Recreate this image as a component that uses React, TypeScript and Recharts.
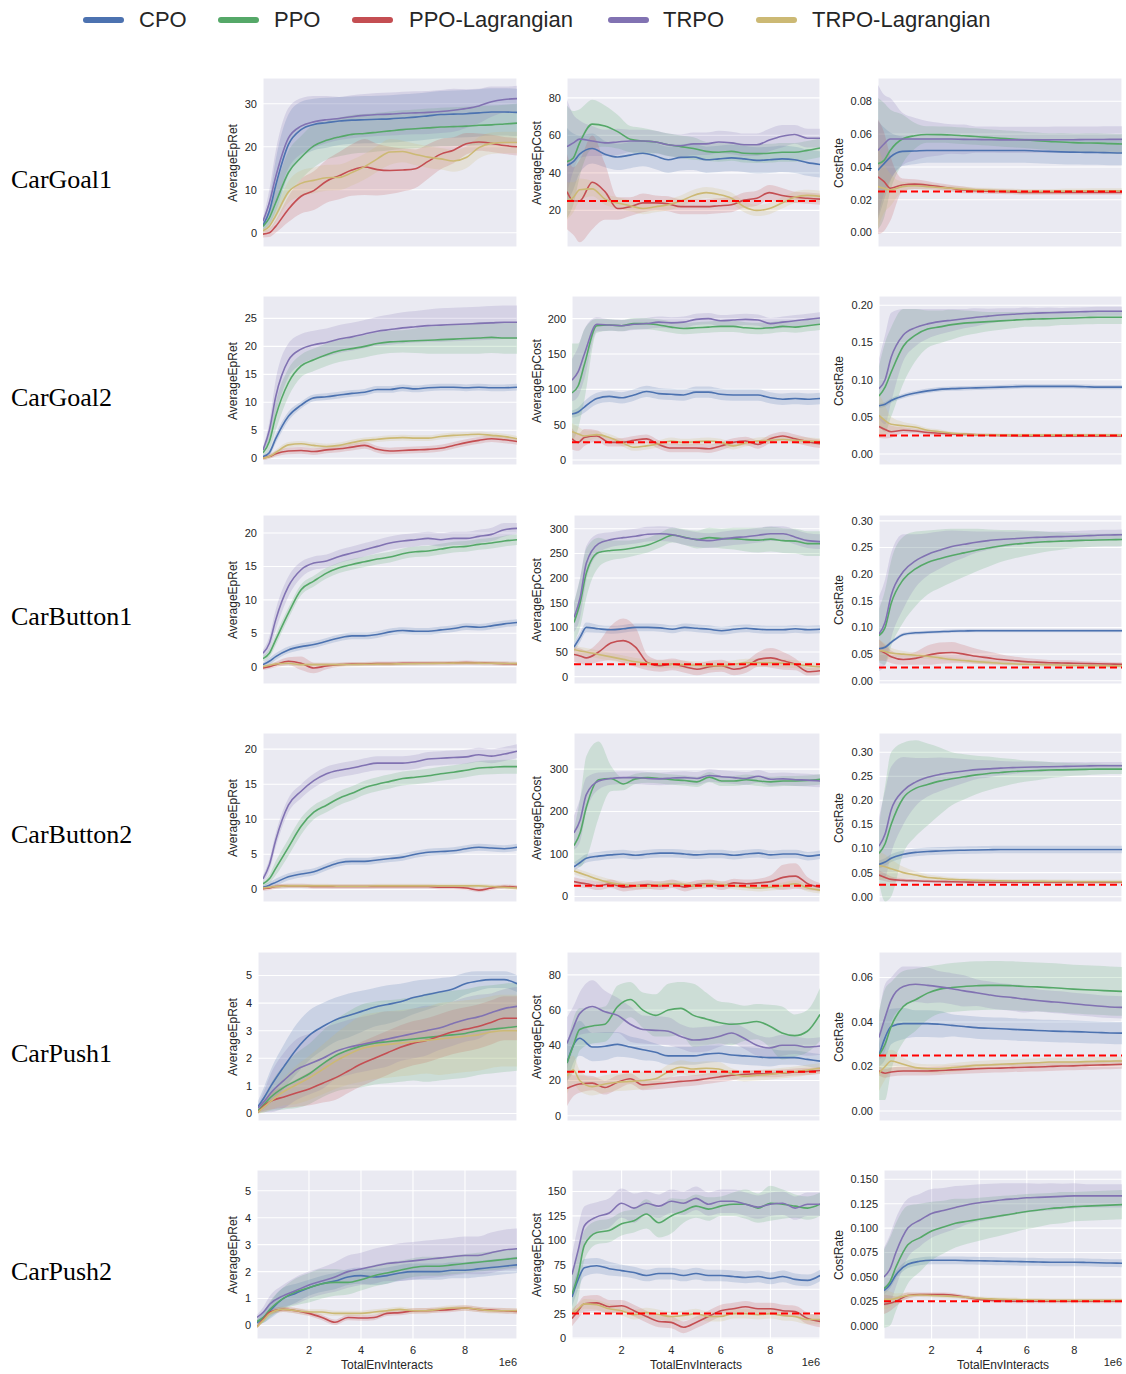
import React from 'react';
import { ComposedChart, Area, Line, XAxis, YAxis, CartesianGrid, ReferenceLine } from 'recharts';

const ALGOS = ['CPO', 'PPO', 'PPO-Lagrangian', 'TRPO', 'TRPO-Lagrangian'];
const COLORS = ['#4C72B0', '#55A868', '#C44E52', '#8172B2', '#CCB974'];
const ENVS = ['CarGoal1', 'CarGoal2', 'CarButton1', 'CarButton2', 'CarPush1', 'CarPush2'];
const METRICS = ['AverageEpRet', 'AverageEpCost', 'CostRate'];
const STEPS = [0, 0.25, 0.5, 1, 1.5, 2, 2.5, 3, 3.5, 4, 4.5, 5, 5.5, 6, 6.5, 7, 7.5, 8, 8.5, 9, 9.5, 10];
const X_TICKS = [2, 4, 6, 8];
const COST_LIMIT = 25;
const RATE_LIMIT = 0.025;

// ---------- CarGoal1 ----------
const goal1Ret = [
  [1.7, 5, 11, 20.5, 24, 25.2, 25.6, 26, 26.2, 26.3, 26.4, 26.5, 26.7, 26.9, 27.2, 27.5, 27.6, 27.7, 27.9, 28.1, 28.1, 28],
  [1.5, 3.5, 7, 14, 17.5, 20.2, 21.5, 22.3, 22.9, 23.1, 23.4, 23.7, 24, 24.2, 24.4, 24.6, 24.7, 24.8, 25, 25.1, 25.3, 25.5],
  [-0.3, 0, 1.5, 5.5, 8.5, 9.8, 12, 13.3, 14.6, 15.3, 14.7, 14.5, 14.6, 14.9, 16.6, 18.3, 19.2, 20.7, 21.1, 20.8, 20.3, 20],
  [2.7, 7, 13, 22, 24.8, 25.8, 26.3, 26.6, 27, 27.3, 27.5, 27.6, 27.8, 27.9, 28, 28.2, 28.5, 28.9, 29.5, 30.5, 31, 31.2],
  [0.5, 1.5, 4, 9.5, 11.5, 12.2, 12.8, 12.9, 14, 15.4, 17.2, 18.8, 18.9, 18.2, 17.6, 17.2, 16.7, 17.5, 19.8, 20.8, 21, 21],
];
const goal1RetBand = [
  [1, 3, 6, 7, 6.5, 6, 5.8, 5.6, 5.5, 5.5, 5.5, 5.5, 5.5, 5.5, 5.5, 5.5, 5.5, 5.5, 5.5, 5.5, 5.5, 5.5],
  [0.8, 2, 3.5, 5, 5, 5, 4.5, 4.5, 4.5, 4.5, 4.5, 4.5, 4.5, 4.5, 4.5, 4.5, 4.5, 4.5, 4.5, 4.5, 4.5, 4.5],
  [0.8, 1, 1.5, 3, 4, 4.5, 5, 5.5, 6, 6.5, 6, 5.5, 5, 4.5, 4, 3.5, 3, 2.5, 2, 2, 2, 2],
  [0.8, 3, 6, 7, 6.5, 6, 5.5, 5, 5, 5, 5, 5, 5, 5, 5, 5, 5, 4.5, 4, 3.5, 3, 3],
  [0.5, 1, 1.5, 2.5, 3, 3, 3, 3, 3, 3, 3, 3, 2.5, 2.5, 2.5, 2.5, 2.5, 2.5, 2.5, 2.5, 2.5, 2.5],
];
const goal1Cost = [
  [44, 46, 50, 53, 50, 48.5, 49.5, 50.5, 49, 47, 48.3, 48.5, 47, 47.5, 48, 47.5, 46.7, 47, 47.5, 47, 45.5, 44.5],
  [46, 48, 56, 66, 65, 62, 58, 57, 56.5, 55, 54, 53, 51.5, 51, 51.5, 50.5, 50.3, 50.5, 51, 51, 52, 53.3],
  [30, 25, 25, 35, 30, 21, 22, 24, 24, 23.5, 22, 22, 22, 22.5, 23, 25.5, 26.5, 29.5, 28, 27, 26.5, 26],
  [54, 56, 58, 57, 56, 56.5, 57, 57, 56.5, 55, 54.5, 55.5, 55.5, 56.5, 56, 55, 55, 57.5, 59.5, 60.5, 58.5, 58.5],
  [25, 27, 31, 31.5, 26, 24, 22.5, 21, 22, 23, 25, 28, 29.5, 28.5, 26.5, 22, 20, 21, 24, 27, 28, 27.5],
];
const goal1CostBand = [
  [20, 15, 10, 8, 7, 7, 7, 7, 7, 7, 7, 7, 7, 7, 7, 7, 7, 7, 7, 7, 7, 7],
  [30, 25, 18, 13, 11, 9, 7, 7, 6, 6, 6, 6, 5, 5, 5, 5, 5, 5, 5, 5, 5, 5],
  [20, 18, 22, 25, 15, 6, 5, 5, 4, 4, 4, 4, 4, 4, 4, 4, 4, 4, 4, 3, 3, 3],
  [25, 15, 10, 8, 7, 7, 6, 6, 6, 6, 6, 6, 6, 6, 6, 6, 6, 6, 6, 5, 5, 5],
  [10, 8, 6, 4, 3, 3, 3, 3, 3, 3, 3, 3, 3, 3, 3, 3, 3, 3, 3, 3, 3, 3],
];
const goal1Rate = [
  [0.038, 0.042, 0.046, 0.0495, 0.0497, 0.05, 0.05, 0.05, 0.05, 0.05, 0.05, 0.05, 0.05, 0.05, 0.0497, 0.0495, 0.0492, 0.049, 0.0489, 0.0488, 0.0486, 0.0485],
  [0.042, 0.044, 0.05, 0.057, 0.059, 0.0598, 0.0597, 0.0595, 0.059, 0.0585, 0.058, 0.0575, 0.057, 0.0565, 0.056, 0.0555, 0.0552, 0.0548, 0.0546, 0.0545, 0.0542, 0.054],
  [0.034, 0.031, 0.027, 0.029, 0.0295, 0.029, 0.028, 0.027, 0.026, 0.0255, 0.0252, 0.025, 0.0248, 0.0245, 0.0245, 0.0245, 0.0245, 0.0245, 0.0245, 0.0245, 0.0245, 0.0245],
  [0.05, 0.054, 0.057, 0.057, 0.057, 0.057, 0.057, 0.057, 0.0568, 0.0567, 0.0566, 0.0565, 0.0565, 0.0565, 0.0565, 0.0565, 0.0566, 0.0566, 0.0567, 0.0567, 0.0568, 0.0568],
  [0.028, 0.027, 0.026, 0.028, 0.0285, 0.028, 0.0275, 0.027, 0.0265, 0.026, 0.0258, 0.0255, 0.0253, 0.025, 0.025, 0.025, 0.0252, 0.0253, 0.0254, 0.0255, 0.0255, 0.0255],
];
const goal1RateBand = [
  [0.03, 0.022, 0.015, 0.009, 0.008, 0.0075, 0.0075, 0.0075, 0.0075, 0.0075, 0.0075, 0.0075, 0.0075, 0.0075, 0.0075, 0.0075, 0.0075, 0.0075, 0.0075, 0.0075, 0.0075, 0.0075],
  [0.04, 0.035, 0.025, 0.015, 0.008, 0.005, 0.005, 0.005, 0.005, 0.005, 0.005, 0.005, 0.005, 0.005, 0.005, 0.005, 0.0055, 0.0055, 0.006, 0.006, 0.006, 0.006],
  [0.035, 0.03, 0.02, 0.004, 0.003, 0.0025, 0.002, 0.002, 0.002, 0.0015, 0.0015, 0.0015, 0.0015, 0.0015, 0.0015, 0.0015, 0.0015, 0.0015, 0.0015, 0.0015, 0.0015, 0.0015],
  [0.04, 0.03, 0.025, 0.016, 0.013, 0.011, 0.01, 0.009, 0.009, 0.008, 0.008, 0.008, 0.008, 0.008, 0.008, 0.008, 0.008, 0.008, 0.008, 0.008, 0.008, 0.008],
  [0.025, 0.015, 0.01, 0.003, 0.002, 0.002, 0.0015, 0.0015, 0.0015, 0.0015, 0.0015, 0.0015, 0.0015, 0.0015, 0.0015, 0.0015, 0.0015, 0.0015, 0.0015, 0.0015, 0.0015, 0.0015],
];

// ---------- CarGoal2 ----------
const goal2Ret = [
  [0.3, 1, 3.5, 7.5, 9.5, 10.8, 11, 11.3, 11.6, 11.8, 12.3, 12.3, 12.6, 12.4, 12.6, 12.7, 12.7, 12.6, 12.7, 12.6, 12.6, 12.7],
  [1, 3, 7.5, 13.5, 16.5, 17.6, 18.5, 19.2, 19.6, 20, 20.5, 20.8, 20.9, 21, 21.1, 21.2, 21.3, 21.4, 21.5, 21.6, 21.5, 21.5],
  [0, 0.3, 0.8, 1.3, 1.4, 1.2, 1.5, 1.7, 2, 2.3, 1.6, 1.3, 1.4, 1.5, 1.6, 1.8, 2.3, 2.8, 3.2, 3.5, 3.3, 3],
  [1.5, 5, 11, 17.5, 19.5, 20.3, 20.7, 21.3, 21.7, 22.2, 22.7, 23, 23.3, 23.5, 23.7, 23.8, 23.9, 24, 24.1, 24.2, 24.3, 24.3],
  [0, 0.3, 1, 2.4, 2.6, 2.3, 2.1, 2.3, 2.8, 3.2, 3.4, 3.6, 3.7, 3.6, 3.6, 3.9, 4.1, 4.2, 4.3, 4.1, 3.9, 3.5],
];
const goal2RetBand = [
  [0.3, 0.5, 0.8, 0.8, 0.6, 0.6, 0.6, 0.6, 0.6, 0.6, 0.6, 0.6, 0.6, 0.6, 0.6, 0.6, 0.6, 0.6, 0.6, 0.6, 0.6, 0.6],
  [0.5, 1.5, 2.5, 2.5, 2, 2, 2, 2, 2, 2, 2, 2, 2, 2.2, 2.4, 2.5, 2.6, 2.7, 2.8, 2.8, 2.8, 2.8],
  [0.3, 0.4, 0.5, 0.6, 0.6, 0.6, 0.6, 0.6, 0.6, 0.6, 0.6, 0.6, 0.6, 0.6, 0.6, 0.6, 0.6, 0.6, 0.6, 0.6, 0.6, 0.6],
  [0.5, 1.5, 3, 3, 2.7, 2.5, 2.5, 2.5, 2.5, 2.5, 2.6, 2.7, 2.8, 2.8, 2.9, 3, 3, 3, 3, 3, 3, 3],
  [0.3, 0.4, 0.5, 0.5, 0.5, 0.5, 0.5, 0.5, 0.5, 0.5, 0.5, 0.5, 0.5, 0.5, 0.5, 0.5, 0.5, 0.5, 0.5, 0.5, 0.5, 0.5],
];
const goal2Cost = [
  [65, 68, 75, 87, 90, 88, 92, 97, 94, 93, 92, 96, 96, 93, 92, 92, 92, 88, 86, 87, 86, 87],
  [95, 105, 135, 190, 191, 190, 193, 193, 191, 188, 186, 187, 188, 189, 189, 187, 186, 187, 189, 188, 190, 192],
  [30, 25, 32, 34, 25, 25, 28, 30, 22, 17, 17, 17, 16, 20, 25, 27, 22, 30, 34, 30, 26, 23],
  [113, 125, 150, 192, 191, 190, 192, 193, 195, 194, 195, 199, 200, 197, 198, 199, 198, 193, 195, 197, 199, 201],
  [40, 37, 34, 36, 32, 25, 18, 20, 23, 27, 25, 26, 27, 25, 20, 24, 27, 28, 29, 28, 27, 26],
];
const goal2CostBand = [
  [5, 6, 8, 8, 8, 8, 8, 8, 8, 8, 8, 8, 8, 8, 8, 8, 8, 8, 8, 8, 8, 8],
  [70, 60, 50, 10, 8, 8, 8, 8, 8, 8, 8, 8, 8, 8, 8, 8, 8, 8, 8, 8, 8, 8],
  [15, 12, 12, 8, 6, 6, 6, 6, 6, 6, 6, 6, 6, 6, 6, 6, 6, 6, 6, 6, 6, 6],
  [30, 35, 35, 10, 8, 8, 8, 8, 8, 8, 8, 8, 8, 8, 8, 8, 8, 8, 8, 8, 8, 8],
  [12, 10, 8, 5, 5, 5, 5, 5, 5, 5, 5, 5, 5, 5, 5, 5, 5, 5, 5, 5, 5, 5],
];
const goal2Rate = [
  [0.065, 0.067, 0.072, 0.078, 0.082, 0.085, 0.087, 0.088, 0.0885, 0.089, 0.0895, 0.09, 0.0905, 0.091, 0.091, 0.091, 0.091, 0.091, 0.0905, 0.09, 0.09, 0.09],
  [0.078, 0.09, 0.11, 0.145, 0.16, 0.168, 0.171, 0.174, 0.176, 0.177, 0.178, 0.179, 0.18, 0.181, 0.1815, 0.182, 0.1825, 0.183, 0.1835, 0.184, 0.184, 0.184],
  [0.037, 0.033, 0.03, 0.032, 0.031, 0.029, 0.028, 0.027, 0.0265, 0.026, 0.0255, 0.025, 0.0248, 0.0245, 0.0245, 0.0245, 0.0245, 0.0245, 0.0245, 0.0245, 0.0245, 0.0245],
  [0.088, 0.1, 0.13, 0.16, 0.17, 0.175, 0.178, 0.18, 0.182, 0.184, 0.1855, 0.187, 0.188, 0.189, 0.1895, 0.19, 0.1905, 0.191, 0.1915, 0.192, 0.192, 0.192],
  [0.052, 0.045, 0.04, 0.038, 0.036, 0.032, 0.03, 0.028, 0.027, 0.026, 0.0258, 0.0255, 0.0255, 0.0255, 0.0255, 0.0255, 0.0255, 0.0255, 0.0255, 0.0255, 0.0255, 0.0255],
];
const goal2RateBand = [
  [0.003, 0.003, 0.003, 0.003, 0.003, 0.003, 0.003, 0.003, 0.003, 0.003, 0.003, 0.003, 0.003, 0.003, 0.003, 0.003, 0.003, 0.003, 0.003, 0.003, 0.003, 0.003],
  [0.04, 0.06, 0.06, 0.05, 0.035, 0.025, 0.022, 0.02, 0.017, 0.015, 0.013, 0.012, 0.011, 0.01, 0.01, 0.01, 0.009, 0.009, 0.009, 0.009, 0.009, 0.009],
  [0.015, 0.012, 0.008, 0.004, 0.003, 0.003, 0.003, 0.002, 0.002, 0.002, 0.002, 0.002, 0.002, 0.002, 0.002, 0.002, 0.002, 0.002, 0.002, 0.002, 0.002, 0.002],
  [0.04, 0.06, 0.06, 0.035, 0.025, 0.02, 0.017, 0.015, 0.013, 0.012, 0.01, 0.009, 0.008, 0.008, 0.007, 0.007, 0.006, 0.006, 0.006, 0.006, 0.006, 0.006],
  [0.03, 0.02, 0.01, 0.005, 0.004, 0.003, 0.003, 0.002, 0.002, 0.002, 0.002, 0.002, 0.002, 0.002, 0.002, 0.002, 0.002, 0.002, 0.002, 0.002, 0.002, 0.002],
];

// ---------- CarButton1 ----------
const button1Ret = [
  [0.3, 0.8, 1.5, 2.5, 3, 3.3, 3.8, 4.3, 4.6, 4.6, 4.8, 5.2, 5.4, 5.3, 5.3, 5.5, 5.7, 6, 5.9, 6.1, 6.4, 6.6],
  [1.2, 2, 4, 8, 11.5, 12.8, 14, 14.8, 15.3, 15.7, 16.1, 16.4, 16.9, 17.2, 17.3, 17.6, 17.9, 18, 18.3, 18.5, 18.8, 19],
  [-0.2, 0, 0.3, 0.8, 0.5, -0.2, 0.1, 0.3, 0.4, 0.4, 0.45, 0.45, 0.5, 0.5, 0.5, 0.5, 0.55, 0.6, 0.55, 0.5, 0.45, 0.4],
  [2, 3.5, 7, 12, 14.5, 15.5, 15.8, 16.5, 17, 17.5, 18, 18.5, 18.8, 19, 19.2, 19, 19.2, 19.2, 19.5, 19.8, 20.5, 20.7],
  [0, 0.2, 0.4, 0.5, 0.3, 0.3, 0.3, 0.3, 0.32, 0.35, 0.38, 0.4, 0.42, 0.45, 0.48, 0.5, 0.52, 0.55, 0.52, 0.5, 0.48, 0.45],
];
const button1RetBand = [
  [0.3, 0.5, 0.5, 0.5, 0.5, 0.5, 0.5, 0.5, 0.5, 0.5, 0.5, 0.5, 0.5, 0.5, 0.5, 0.5, 0.5, 0.5, 0.5, 0.5, 0.5, 0.5],
  [0.4, 0.6, 0.8, 0.8, 0.8, 0.8, 0.8, 0.8, 0.8, 0.8, 0.8, 0.8, 0.8, 0.8, 0.8, 0.8, 0.8, 0.8, 0.8, 0.8, 0.8, 0.8],
  [0.3, 0.3, 0.4, 0.6, 1, 0.8, 0.5, 0.3, 0.3, 0.3, 0.3, 0.3, 0.3, 0.3, 0.3, 0.3, 0.3, 0.3, 0.3, 0.3, 0.3, 0.3],
  [0.5, 1, 1.5, 1.5, 1.2, 1, 1, 1, 1, 1, 1, 1, 1, 1, 1, 1, 1, 1, 1, 1, 1, 0.8],
  [0.3, 0.3, 0.3, 0.3, 0.3, 0.3, 0.3, 0.3, 0.3, 0.3, 0.3, 0.3, 0.3, 0.3, 0.3, 0.3, 0.3, 0.3, 0.3, 0.3, 0.3, 0.3],
];
const button1Cost = [
  [60, 80, 100, 97, 95, 97, 100, 100, 99, 96, 100, 98, 96, 93, 96, 98, 96, 95, 95, 97, 95, 96],
  [110, 150, 210, 252, 256, 258, 262, 267, 277, 287, 283, 278, 282, 280, 280, 278, 277, 279, 276, 275, 270, 270],
  [45, 42, 38, 50, 68, 73, 60, 28, 22, 25, 20, 15, 20, 22, 15, 20, 35, 38, 32, 25, 10, 12],
  [120, 160, 230, 270, 278, 282, 285, 289, 290, 288, 282, 278, 276, 279, 282, 284, 287, 290, 290, 283, 276, 274],
  [55, 52, 50, 45, 40, 35, 30, 27, 25, 25, 24, 23, 22, 22, 25, 28, 28, 28, 27, 25, 22, 20],
];
const button1CostBand = [
  [10, 10, 10, 8, 8, 8, 8, 8, 8, 8, 8, 8, 8, 8, 8, 8, 8, 8, 8, 8, 8, 8],
  [40, 50, 50, 30, 20, 18, 16, 15, 15, 15, 16, 18, 20, 20, 22, 24, 25, 25, 25, 25, 25, 25],
  [15, 15, 15, 20, 35, 45, 40, 15, 12, 12, 12, 12, 12, 12, 12, 12, 15, 20, 18, 12, 8, 8],
  [30, 40, 35, 20, 15, 15, 15, 15, 15, 15, 15, 15, 15, 15, 15, 15, 15, 15, 15, 15, 15, 15],
  [10, 8, 8, 8, 8, 8, 8, 8, 8, 8, 8, 8, 8, 8, 8, 8, 8, 8, 8, 8, 8, 8],
];
const button1Rate = [
  [0.06, 0.063, 0.072, 0.087, 0.09, 0.091, 0.092, 0.093, 0.0935, 0.094, 0.094, 0.094, 0.094, 0.094, 0.094, 0.094, 0.094, 0.094, 0.094, 0.094, 0.094, 0.094],
  [0.085, 0.1, 0.145, 0.19, 0.21, 0.222, 0.229, 0.235, 0.24, 0.245, 0.249, 0.253, 0.256, 0.258, 0.26, 0.261, 0.262, 0.263, 0.2635, 0.264, 0.2645, 0.265],
  [0.058, 0.052, 0.045, 0.04, 0.042, 0.048, 0.052, 0.053, 0.05, 0.046, 0.043, 0.04, 0.038, 0.036, 0.035, 0.034, 0.0335, 0.033, 0.0325, 0.032, 0.0315, 0.031],
  [0.088, 0.11, 0.16, 0.205, 0.225, 0.237, 0.245, 0.252, 0.256, 0.26, 0.263, 0.265, 0.2665, 0.268, 0.269, 0.27, 0.2705, 0.271, 0.272, 0.273, 0.2735, 0.274],
  [0.057, 0.055, 0.052, 0.05, 0.048, 0.046, 0.043, 0.04, 0.038, 0.036, 0.0345, 0.033, 0.032, 0.031, 0.0305, 0.03, 0.0295, 0.029, 0.0285, 0.0285, 0.028, 0.028],
];
const button1RateBand = [
  [0.003, 0.003, 0.003, 0.003, 0.003, 0.003, 0.003, 0.003, 0.003, 0.003, 0.003, 0.003, 0.003, 0.003, 0.003, 0.003, 0.003, 0.003, 0.003, 0.003, 0.003, 0.003],
  [0.05, 0.07, 0.08, 0.08, 0.07, 0.06, 0.055, 0.05, 0.045, 0.04, 0.035, 0.03, 0.027, 0.024, 0.021, 0.018, 0.016, 0.014, 0.013, 0.012, 0.012, 0.012],
  [0.02, 0.015, 0.012, 0.01, 0.012, 0.018, 0.02, 0.02, 0.017, 0.014, 0.012, 0.01, 0.008, 0.007, 0.006, 0.005, 0.005, 0.005, 0.004, 0.004, 0.004, 0.004],
  [0.07, 0.08, 0.08, 0.07, 0.05, 0.04, 0.035, 0.03, 0.025, 0.02, 0.017, 0.015, 0.013, 0.012, 0.011, 0.01, 0.01, 0.01, 0.01, 0.01, 0.01, 0.01],
  [0.02, 0.015, 0.01, 0.006, 0.005, 0.005, 0.004, 0.004, 0.004, 0.004, 0.004, 0.004, 0.004, 0.004, 0.004, 0.004, 0.004, 0.004, 0.004, 0.004, 0.004, 0.004],
];

// ---------- CarButton2 ----------
const button2Ret = [
  [0.3, 0.6, 1, 1.8, 2.2, 2.5, 3.2, 3.8, 4, 4, 4.2, 4.4, 4.6, 5, 5.3, 5.4, 5.5, 5.8, 6, 5.9, 5.8, 6],
  [0.8, 1.5, 3, 6, 9, 11, 12, 13, 13.7, 14.5, 15, 15.4, 15.8, 16, 16.2, 16.5, 16.7, 17, 17.3, 17.4, 17.5, 17.5],
  [0.1, 0.2, 0.4, 0.5, 0.5, 0.4, 0.4, 0.4, 0.4, 0.4, 0.4, 0.4, 0.4, 0.4, 0.4, 0.3, 0.3, 0.2, -0.1, 0.2, 0.4, 0.3],
  [1.5, 3.5, 7, 12, 14, 15.5, 16.5, 17, 17.3, 17.7, 18, 18, 18, 18.2, 18.6, 18.7, 18.8, 18.9, 19.2, 19, 19.3, 19.7],
  [0.2, 0.3, 0.4, 0.5, 0.5, 0.5, 0.5, 0.45, 0.45, 0.45, 0.5, 0.5, 0.5, 0.5, 0.5, 0.5, 0.5, 0.5, 0.5, 0.4, 0.3, 0.2],
];
const button2RetBand = [
  [0.3, 0.4, 0.5, 0.5, 0.5, 0.5, 0.5, 0.5, 0.5, 0.5, 0.5, 0.5, 0.5, 0.5, 0.5, 0.5, 0.5, 0.5, 0.5, 0.5, 0.5, 0.5],
  [0.3, 0.6, 1, 1.2, 1.2, 1, 1, 1, 1, 1, 1, 1, 1, 1, 1, 1, 1, 1, 1, 1, 1, 1],
  [0.3, 0.3, 0.3, 0.3, 0.3, 0.3, 0.3, 0.3, 0.3, 0.3, 0.3, 0.3, 0.3, 0.3, 0.3, 0.3, 0.3, 0.3, 0.3, 0.3, 0.3, 0.3],
  [0.5, 0.8, 1, 1, 1, 1, 1, 1, 1, 1, 1, 1, 1, 1, 1, 1, 1, 1, 1, 1, 1, 1],
  [0.3, 0.3, 0.3, 0.3, 0.3, 0.3, 0.3, 0.3, 0.3, 0.3, 0.3, 0.3, 0.3, 0.3, 0.3, 0.3, 0.3, 0.3, 0.3, 0.3, 0.3, 0.3],
];
const button2Cost = [
  [70, 80, 90, 95, 98, 100, 97, 100, 102, 102, 100, 98, 100, 100, 97, 100, 102, 98, 100, 100, 95, 98],
  [120, 150, 210, 275, 278, 265, 277, 280, 278, 275, 273, 270, 281, 272, 272, 275, 272, 270, 272, 272, 273, 276],
  [35, 32, 30, 25, 30, 22, 25, 28, 25, 30, 22, 28, 30, 25, 32, 30, 32, 35, 45, 48, 30, 22],
  [150, 180, 240, 272, 278, 280, 280, 278, 277, 279, 280, 278, 285, 282, 280, 278, 283, 276, 277, 275, 274, 272],
  [60, 55, 50, 40, 32, 28, 25, 25, 28, 30, 28, 25, 30, 28, 25, 22, 20, 22, 25, 30, 20, 15],
];
const button2CostBand = [
  [10, 10, 10, 10, 10, 10, 10, 10, 10, 10, 10, 10, 10, 10, 10, 10, 10, 10, 10, 10, 10, 10],
  [40, 80, 120, 90, 30, 15, 12, 12, 12, 12, 12, 12, 12, 12, 12, 12, 12, 12, 12, 12, 12, 12],
  [10, 10, 10, 10, 10, 10, 10, 10, 10, 10, 10, 10, 10, 10, 10, 10, 10, 15, 30, 30, 15, 10],
  [40, 50, 40, 20, 15, 15, 15, 15, 15, 15, 15, 15, 15, 15, 15, 15, 15, 15, 15, 15, 15, 15],
  [8, 8, 8, 8, 8, 8, 8, 8, 8, 8, 8, 8, 8, 8, 8, 8, 8, 8, 8, 8, 8, 8],
];
const button2Rate = [
  [0.067, 0.072, 0.08, 0.088, 0.092, 0.094, 0.095, 0.096, 0.0965, 0.097, 0.0975, 0.098, 0.098, 0.098, 0.098, 0.098, 0.098, 0.098, 0.098, 0.098, 0.098, 0.098],
  [0.09, 0.11, 0.15, 0.205, 0.225, 0.233, 0.24, 0.245, 0.249, 0.253, 0.256, 0.258, 0.26, 0.261, 0.262, 0.263, 0.2635, 0.264, 0.2645, 0.265, 0.265, 0.265],
  [0.045, 0.04, 0.036, 0.034, 0.033, 0.032, 0.0315, 0.031, 0.0305, 0.03, 0.03, 0.03, 0.03, 0.03, 0.03, 0.03, 0.03, 0.03, 0.03, 0.03, 0.03, 0.03],
  [0.105, 0.13, 0.18, 0.22, 0.238, 0.248, 0.254, 0.258, 0.261, 0.264, 0.2655, 0.267, 0.268, 0.269, 0.2695, 0.27, 0.2705, 0.271, 0.2715, 0.272, 0.272, 0.272],
  [0.065, 0.062, 0.058, 0.05, 0.045, 0.04, 0.038, 0.036, 0.035, 0.034, 0.0335, 0.033, 0.0325, 0.032, 0.032, 0.0315, 0.0315, 0.031, 0.031, 0.031, 0.031, 0.031],
];
const button2RateBand = [
  [0.008, 0.008, 0.008, 0.008, 0.008, 0.008, 0.008, 0.008, 0.008, 0.008, 0.008, 0.008, 0.008, 0.008, 0.008, 0.008, 0.008, 0.008, 0.008, 0.008, 0.008, 0.008],
  [0.06, 0.12, 0.15, 0.115, 0.1, 0.085, 0.07, 0.055, 0.047, 0.04, 0.035, 0.03, 0.026, 0.022, 0.02, 0.017, 0.015, 0.013, 0.012, 0.011, 0.01, 0.01],
  [0.01, 0.008, 0.006, 0.004, 0.003, 0.003, 0.003, 0.003, 0.003, 0.003, 0.003, 0.003, 0.003, 0.003, 0.003, 0.003, 0.003, 0.003, 0.003, 0.003, 0.003, 0.003],
  [0.06, 0.09, 0.09, 0.07, 0.05, 0.04, 0.035, 0.03, 0.025, 0.02, 0.018, 0.015, 0.013, 0.012, 0.011, 0.01, 0.009, 0.009, 0.008, 0.008, 0.008, 0.008],
  [0.03, 0.025, 0.02, 0.012, 0.008, 0.006, 0.005, 0.004, 0.004, 0.004, 0.004, 0.004, 0.004, 0.004, 0.004, 0.004, 0.004, 0.004, 0.004, 0.004, 0.004, 0.004],
];

// ---------- CarPush1 ----------
const push1Ret = [
  [0.25, 0.6, 1, 1.7, 2.35, 2.85, 3.15, 3.4, 3.55, 3.7, 3.85, 3.95, 4.05, 4.2, 4.3, 4.4, 4.5, 4.7, 4.8, 4.85, 4.85, 4.7],
  [0.1, 0.35, 0.6, 0.95, 1.2, 1.45, 1.8, 2.1, 2.3, 2.45, 2.55, 2.6, 2.65, 2.7, 2.75, 2.8, 2.85, 2.9, 3, 3.05, 3.1, 3.15],
  [0.05, 0.3, 0.45, 0.6, 0.75, 0.9, 1.1, 1.3, 1.55, 1.8, 2, 2.2, 2.4, 2.55, 2.65, 2.8, 2.95, 3.05, 3.15, 3.3, 3.45, 3.45],
  [0.2, 0.45, 0.75, 1.2, 1.6, 1.8, 2, 2.25, 2.4, 2.5, 2.6, 2.7, 2.8, 2.9, 3, 3.1, 3.25, 3.4, 3.5, 3.65, 3.8, 3.88],
  [0.05, 0.25, 0.45, 0.8, 1.05, 1.3, 1.6, 1.9, 2.15, 2.35, 2.45, 2.5, 2.55, 2.6, 2.65, 2.7, 2.75, 2.8, 2.85, 2.95, 3, 3],
];
const push1RetBand = [
  [0.2, 0.4, 0.6, 0.8, 0.9, 0.9, 0.85, 0.8, 0.8, 0.75, 0.7, 0.7, 0.65, 0.6, 0.55, 0.5, 0.45, 0.4, 0.35, 0.3, 0.3, 0.3],
  [0.1, 0.3, 0.5, 0.8, 1, 1.1, 1.2, 1.3, 1.4, 1.5, 1.5, 1.5, 1.5, 1.5, 1.6, 1.6, 1.6, 1.6, 1.6, 1.6, 1.6, 1.6],
  [0.05, 0.2, 0.3, 0.4, 0.5, 0.6, 0.7, 0.8, 0.8, 0.8, 0.8, 0.8, 0.8, 0.8, 0.8, 0.8, 0.8, 0.8, 0.8, 0.8, 0.8, 0.8],
  [0.1, 0.4, 0.7, 1, 1.1, 1.1, 1.1, 1, 1, 1, 1, 1, 0.9, 0.9, 0.9, 0.8, 0.8, 0.8, 0.8, 0.7, 0.7, 0.7],
  [0.05, 0.2, 0.3, 0.5, 0.7, 0.8, 0.9, 1, 1.1, 1.2, 1.2, 1.2, 1.2, 1.2, 1.2, 1.3, 1.3, 1.3, 1.3, 1.3, 1.3, 1.3],
];
const push1Cost = [
  [30, 40, 44, 39, 39.5, 40.5, 39, 37.5, 36, 34, 34, 34, 35, 35.5, 34.5, 34, 33.5, 33, 33, 33, 32, 31],
  [30, 40, 49, 51, 52, 62, 66, 60, 57, 60, 61, 57, 55, 53, 52, 52.5, 53.5, 51, 47, 45.5, 48, 57.5],
  [15.5, 17, 18, 18.5, 16, 19, 21, 17.5, 18, 18.7, 19.5, 20, 21, 22, 23, 23.5, 23.8, 23.8, 24.2, 24.8, 25.2, 25.7],
  [41, 50, 58, 62, 59, 57, 52, 49, 48.5, 48, 45, 43, 43.5, 45, 47, 44, 40, 38.5, 40, 40, 39, 39.6],
  [22.5, 26, 20, 16.5, 18, 19, 19.5, 20, 21, 25, 27.5, 26.5, 27, 26.5, 24, 22.5, 23, 23.5, 24.3, 25, 26, 27],
];
const push1CostBand = [
  [12, 10, 10, 8, 8, 7, 6, 6, 5, 5, 5, 5, 5, 5, 5, 5, 5, 5, 4, 4, 4, 4],
  [10, 15, 12, 10, 10, 12, 10, 10, 12, 15, 15, 18, 15, 12, 12, 10, 10, 12, 15, 12, 12, 15],
  [10, 6, 5, 4, 4, 4, 3, 3, 3, 3, 3, 3, 3, 3, 3, 2, 2, 2, 2, 2, 2, 2],
  [15, 12, 12, 15, 12, 10, 10, 8, 8, 8, 7, 7, 7, 6, 6, 6, 6, 6, 6, 5, 5, 5],
  [10, 8, 6, 5, 5, 5, 5, 5, 4, 4, 4, 4, 4, 4, 3, 3, 3, 3, 3, 3, 3, 3],
];
const push1Rate = [
  [0.025, 0.033, 0.038, 0.0393, 0.0393, 0.0393, 0.039, 0.0385, 0.038, 0.0375, 0.0372, 0.037, 0.0367, 0.0365, 0.0362, 0.036, 0.0358, 0.0357, 0.0355, 0.0353, 0.0351, 0.035],
  [0.025, 0.03, 0.038, 0.047, 0.05, 0.053, 0.0548, 0.0555, 0.056, 0.0563, 0.0565, 0.0565, 0.0563, 0.056, 0.0558, 0.0555, 0.0552, 0.0548, 0.0545, 0.0543, 0.054, 0.0538],
  [0.018, 0.017, 0.0175, 0.018, 0.018, 0.018, 0.0182, 0.0185, 0.0187, 0.019, 0.0192, 0.0193, 0.0195, 0.0197, 0.0198, 0.02, 0.0202, 0.0203, 0.0205, 0.0207, 0.0208, 0.021],
  [0.033, 0.042, 0.05, 0.056, 0.057, 0.0565, 0.0558, 0.055, 0.054, 0.0532, 0.0523, 0.0515, 0.051, 0.0503, 0.0497, 0.0492, 0.0488, 0.0482, 0.0477, 0.0472, 0.0468, 0.0466],
  [0.017, 0.02, 0.0225, 0.021, 0.0195, 0.019, 0.019, 0.0195, 0.02, 0.0205, 0.0207, 0.021, 0.0212, 0.0215, 0.0217, 0.022, 0.022, 0.022, 0.0222, 0.0223, 0.0224, 0.0225],
];
const push1RateBand = [
  [0.005, 0.01, 0.008, 0.007, 0.006, 0.006, 0.006, 0.005, 0.005, 0.005, 0.005, 0.005, 0.005, 0.005, 0.005, 0.005, 0.005, 0.005, 0.005, 0.005, 0.005, 0.005],
  [0.02, 0.025, 0.02, 0.016, 0.014, 0.012, 0.011, 0.011, 0.011, 0.011, 0.011, 0.011, 0.011, 0.011, 0.011, 0.011, 0.011, 0.011, 0.011, 0.011, 0.011, 0.011],
  [0.002, 0.002, 0.002, 0.002, 0.002, 0.002, 0.002, 0.002, 0.002, 0.002, 0.002, 0.002, 0.002, 0.002, 0.002, 0.002, 0.002, 0.002, 0.002, 0.002, 0.002, 0.002],
  [0.01, 0.015, 0.01, 0.009, 0.008, 0.008, 0.007, 0.007, 0.007, 0.006, 0.006, 0.006, 0.006, 0.006, 0.005, 0.005, 0.005, 0.005, 0.005, 0.005, 0.005, 0.005],
  [0.008, 0.006, 0.005, 0.003, 0.002, 0.002, 0.002, 0.002, 0.002, 0.002, 0.002, 0.002, 0.002, 0.002, 0.002, 0.002, 0.002, 0.002, 0.002, 0.002, 0.002, 0.002],
];

// ---------- CarPush2 ----------
const push2Ret = [
  [0.1, 0.3, 0.55, 1, 1.2, 1.4, 1.55, 1.65, 1.8, 1.85, 1.8, 1.85, 1.95, 2, 2, 2, 2.05, 2.05, 2.1, 2.15, 2.2, 2.25],
  [0.15, 0.3, 0.6, 1, 1.25, 1.4, 1.55, 1.6, 1.6, 1.7, 1.85, 1.95, 2.05, 2.15, 2.2, 2.2, 2.25, 2.3, 2.35, 2.4, 2.45, 2.5],
  [-0.05, 0.25, 0.5, 0.6, 0.55, 0.45, 0.3, 0.12, 0.3, 0.28, 0.3, 0.45, 0.48, 0.54, 0.55, 0.57, 0.6, 0.65, 0.6, 0.57, 0.55, 0.52],
  [0.3, 0.5, 0.8, 1.1, 1.3, 1.5, 1.65, 1.8, 2, 2.1, 2.2, 2.3, 2.35, 2.4, 2.45, 2.5, 2.55, 2.6, 2.6, 2.7, 2.8, 2.85],
  [-0.05, 0.2, 0.45, 0.6, 0.55, 0.5, 0.5, 0.45, 0.45, 0.45, 0.5, 0.55, 0.6, 0.55, 0.55, 0.6, 0.65, 0.65, 0.6, 0.55, 0.55, 0.55],
];
const push2RetBand = [
  [0.1, 0.2, 0.3, 0.4, 0.35, 0.3, 0.3, 0.3, 0.3, 0.3, 0.3, 0.3, 0.3, 0.3, 0.3, 0.3, 0.3, 0.3, 0.3, 0.3, 0.3, 0.3],
  [0.1, 0.2, 0.3, 0.4, 0.5, 0.55, 0.55, 0.5, 0.45, 0.4, 0.4, 0.4, 0.35, 0.35, 0.35, 0.35, 0.35, 0.35, 0.35, 0.35, 0.35, 0.35],
  [0.05, 0.08, 0.1, 0.1, 0.1, 0.1, 0.1, 0.1, 0.1, 0.1, 0.1, 0.1, 0.1, 0.1, 0.1, 0.1, 0.1, 0.1, 0.1, 0.1, 0.1, 0.1],
  [0.1, 0.2, 0.3, 0.4, 0.5, 0.5, 0.5, 0.55, 0.6, 0.6, 0.65, 0.65, 0.7, 0.7, 0.7, 0.7, 0.7, 0.7, 0.7, 0.75, 0.75, 0.75],
  [0.05, 0.08, 0.1, 0.1, 0.1, 0.1, 0.1, 0.1, 0.1, 0.1, 0.1, 0.1, 0.1, 0.1, 0.1, 0.1, 0.1, 0.1, 0.1, 0.1, 0.1, 0.1],
];
const push2Cost = [
  [42, 60, 72, 74, 71, 69, 67, 64, 66, 66, 64, 66, 64, 64, 63, 62, 63, 61, 63, 60, 59, 64],
  [45, 65, 95, 108, 110, 117, 120, 127, 118, 125, 130, 135, 132, 135, 137, 137, 133, 138, 137, 135, 133, 137],
  [20, 28, 35, 36, 32, 33, 28, 22, 17, 16, 11, 16, 22, 28, 30, 32, 30, 30, 28, 27, 20, 17],
  [65, 90, 115, 124, 128, 138, 133, 138, 135, 140, 138, 143, 137, 140, 140, 137, 134, 137, 138, 133, 137, 137],
  [25, 30, 35, 34, 30, 28, 24, 26, 24, 22, 23, 25, 22, 22, 25, 25, 24, 25, 23, 22, 19, 19],
];
const push2CostBand = [
  [10, 10, 9, 8, 7, 6, 6, 6, 6, 6, 6, 6, 6, 6, 6, 6, 6, 6, 6, 6, 6, 6],
  [20, 25, 15, 12, 12, 12, 12, 15, 15, 18, 12, 12, 12, 10, 12, 15, 15, 18, 15, 12, 12, 12],
  [8, 8, 8, 8, 7, 6, 6, 6, 6, 6, 6, 6, 6, 6, 6, 6, 6, 6, 6, 6, 6, 6],
  [20, 25, 20, 15, 15, 15, 15, 12, 12, 12, 12, 12, 12, 12, 12, 12, 12, 12, 12, 12, 12, 12],
  [5, 5, 5, 5, 5, 5, 5, 5, 5, 5, 5, 5, 5, 5, 5, 5, 5, 5, 5, 5, 5, 5],
];
const push2Rate = [
  [0.036, 0.042, 0.052, 0.063, 0.066, 0.067, 0.067, 0.067, 0.0667, 0.0665, 0.0663, 0.066, 0.0658, 0.0655, 0.0653, 0.065, 0.065, 0.065, 0.0648, 0.0645, 0.0642, 0.064],
  [0.038, 0.045, 0.06, 0.083, 0.09, 0.097, 0.101, 0.105, 0.107, 0.109, 0.111, 0.113, 0.115, 0.117, 0.1185, 0.12, 0.121, 0.122, 0.1225, 0.123, 0.1235, 0.124],
  [0.022, 0.023, 0.025, 0.031, 0.032, 0.032, 0.032, 0.031, 0.029, 0.027, 0.026, 0.0255, 0.025, 0.025, 0.025, 0.025, 0.025, 0.025, 0.025, 0.025, 0.025, 0.025],
  [0.05, 0.058, 0.075, 0.1, 0.108, 0.115, 0.118, 0.121, 0.124, 0.126, 0.1275, 0.129, 0.13, 0.131, 0.1315, 0.132, 0.1325, 0.133, 0.133, 0.133, 0.133, 0.133],
  [0.027, 0.027, 0.028, 0.031, 0.0315, 0.031, 0.0305, 0.03, 0.029, 0.028, 0.0275, 0.027, 0.0268, 0.0265, 0.0263, 0.026, 0.026, 0.026, 0.026, 0.026, 0.026, 0.026],
];
const push2RateBand = [
  [0.004, 0.004, 0.004, 0.004, 0.004, 0.004, 0.004, 0.004, 0.004, 0.004, 0.004, 0.004, 0.004, 0.004, 0.004, 0.004, 0.004, 0.004, 0.004, 0.004, 0.004, 0.004],
  [0.04, 0.045, 0.045, 0.04, 0.035, 0.03, 0.027, 0.025, 0.023, 0.022, 0.021, 0.02, 0.019, 0.018, 0.017, 0.016, 0.016, 0.015, 0.015, 0.015, 0.015, 0.015],
  [0.01, 0.008, 0.005, 0.003, 0.002, 0.002, 0.002, 0.002, 0.002, 0.002, 0.002, 0.002, 0.002, 0.002, 0.002, 0.002, 0.002, 0.002, 0.002, 0.002, 0.002, 0.002],
  [0.03, 0.035, 0.035, 0.03, 0.027, 0.025, 0.023, 0.022, 0.02, 0.019, 0.018, 0.017, 0.016, 0.015, 0.014, 0.014, 0.013, 0.013, 0.012, 0.012, 0.012, 0.012],
  [0.01, 0.008, 0.005, 0.003, 0.002, 0.002, 0.002, 0.002, 0.002, 0.002, 0.002, 0.002, 0.002, 0.002, 0.002, 0.002, 0.002, 0.002, 0.002, 0.002, 0.002, 0.002],
];

const fmtInt = (v: number) => String(v);
const fmt2 = (v: number) => v.toFixed(2);
const fmt3 = (v: number) => v.toFixed(3);

type Spec = { means: number[][]; bands: number[][]; domain: [number, number]; ticks: number[]; fmt: (v: number) => string };

const PANELS: Spec[][] = [
  [
    { means: goal1Ret, bands: goal1RetBand, domain: [-3.3, 36], ticks: [0, 10, 20, 30], fmt: fmtInt },
    { means: goal1Cost, bands: goal1CostBand, domain: [0.5, 90.6], ticks: [20, 40, 60, 80], fmt: fmtInt },
    { means: goal1Rate, bands: goal1RateBand, domain: [-0.0088, 0.0942], ticks: [0, 0.02, 0.04, 0.06, 0.08], fmt: fmt2 },
  ],
  [
    { means: goal2Ret, bands: goal2RetBand, domain: [-1.2, 29], ticks: [0, 5, 10, 15, 20, 25], fmt: fmtInt },
    { means: goal2Cost, bands: goal2CostBand, domain: [-7, 232], ticks: [0, 50, 100, 150, 200], fmt: fmtInt },
    { means: goal2Rate, bands: goal2RateBand, domain: [-0.0147, 0.2125], ticks: [0, 0.05, 0.1, 0.15, 0.2], fmt: fmt2 },
  ],
  [
    { means: button1Ret, bands: button1RetBand, domain: [-2.6, 22.7], ticks: [0, 5, 10, 15, 20], fmt: fmtInt },
    { means: button1Cost, bands: button1CostBand, domain: [-15, 328], ticks: [0, 50, 100, 150, 200, 250, 300], fmt: fmtInt },
    { means: button1Rate, bands: button1RateBand, domain: [-0.006, 0.311], ticks: [0, 0.05, 0.1, 0.15, 0.2, 0.25, 0.3], fmt: fmt2 },
  ],
  [
    { means: button2Ret, bands: button2RetBand, domain: [-1.8, 22.3], ticks: [0, 5, 10, 15, 20], fmt: fmtInt },
    { means: button2Cost, bands: button2CostBand, domain: [-13, 385], ticks: [0, 100, 200, 300], fmt: fmtInt },
    { means: button2Rate, bands: button2RateBand, domain: [-0.011, 0.34], ticks: [0, 0.05, 0.1, 0.15, 0.2, 0.25, 0.3], fmt: fmt2 },
  ],
  [
    { means: push1Ret, bands: push1RetBand, domain: [-0.27, 5.85], ticks: [0, 1, 2, 3, 4, 5], fmt: fmtInt },
    { means: push1Cost, bands: push1CostBand, domain: [-3, 93], ticks: [0, 20, 40, 60, 80], fmt: fmtInt },
    { means: push1Rate, bands: push1RateBand, domain: [-0.0045, 0.0715], ticks: [0, 0.02, 0.04, 0.06], fmt: fmt2 },
  ],
  [
    { means: push2Ret, bands: push2RetBand, domain: [-0.5, 5.77], ticks: [0, 1, 2, 3, 4, 5], fmt: fmtInt },
    { means: push2Cost, bands: push2CostBand, domain: [-1, 172], ticks: [0, 25, 50, 75, 100, 125, 150], fmt: fmtInt },
    { means: push2Rate, bands: push2RateBand, domain: [-0.0136, 0.1595], ticks: [0, 0.025, 0.05, 0.075, 0.1, 0.125, 0.15], fmt: fmt3 },
  ],
];

// ---------- layout ----------
const FONT = '"Liberation Sans", Arial, Helvetica, sans-serif';
const TEXT = '#262626';
const ROW_TOP = [78, 296, 515, 733, 952, 1170];
const PLOT_H = 169;
const PLOT_LEFT = [
  [263, 567, 878],
  [263, 572, 879],
  [263, 574, 879],
  [263, 574, 879],
  [258, 567, 879],
  [257, 572, 884],
];
const PLOT_RIGHT = [517, 820, 1122];
const YLABEL_X = [233, 537, 839];
const AXIS_W = 44;
const PAD = 8;
const LEGEND_LINE_X = [83, 218, 352, 608, 756];
const LEGEND_TEXT_X = [139, 274, 409, 663, 812];

function buildRows(means: number[][], bands: number[][]) {
  return STEPS.map((x, j) => {
    const row: Record<string, any> = { x };
    means.forEach((m, i) => {
      row['m' + i] = m[j];
      row['b' + i] = [m[j] - bands[i][j], m[j] + bands[i][j]];
    });
    return row;
  });
}

function Panel({ r, c }: { r: number; c: number }) {
  const spec = PANELS[r][c];
  const left = PLOT_LEFT[r][c];
  const plotW = PLOT_RIGHT[c] - left;
  const top = ROW_TOP[r];
  const isBottom = r === ROW_TOP.length - 1;
  const xH = isBottom ? 24 : PAD;
  const data = buildRows(spec.means, spec.bands);
  const thr = c === 1 ? COST_LIMIT : c === 2 ? RATE_LIMIT : null;
  return (
    <div style={{ position: 'absolute', left: left - AXIS_W, top: top - PAD }}>
      <ComposedChart
        width={AXIS_W + plotW + 5}
        height={PAD + PLOT_H + xH}
        data={data}
        margin={{ top: PAD, right: 5, left: 0, bottom: 0 }}
      >
        <CartesianGrid fill="#EAEAF2" fillOpacity={1} stroke="#FFFFFF" strokeWidth={1.1} />
        <XAxis
          type="number"
          dataKey="x"
          domain={[0, 10]}
          ticks={X_TICKS}
          allowDataOverflow
          axisLine={false}
          tickLine={false}
          tickSize={0}
          tickMargin={7}
          height={xH}
          interval={0}
          tick={isBottom ? { fontSize: 11, fill: TEXT, fontFamily: FONT } : false}
        />
        <YAxis
          type="number"
          domain={spec.domain}
          ticks={spec.ticks}
          allowDataOverflow
          width={AXIS_W}
          axisLine={false}
          tickLine={false}
          tickSize={0}
          tickMargin={6}
          interval={0}
          tickFormatter={spec.fmt}
          tick={{ fontSize: 11, fill: TEXT, fontFamily: FONT }}
        />
        {ALGOS.map((a, i) => (
          <Area
            key={'band-' + a}
            dataKey={'b' + i}
            type="monotone"
            stroke="none"
            fill={COLORS[i]}
            fillOpacity={0.2}
            isAnimationActive={false}
            activeDot={false}
          />
        ))}
        {ALGOS.map((a, i) => (
          <Line
            key={'line-' + a}
            dataKey={'m' + i}
            type="monotone"
            stroke={COLORS[i]}
            strokeWidth={1.6}
            dot={false}
            activeDot={false}
            isAnimationActive={false}
          />
        ))}
        {thr !== null && (
          <ReferenceLine y={thr} stroke="#FF0000" strokeWidth={2} strokeDasharray="7 4" ifOverflow="hidden" />
        )}
      </ComposedChart>
    </div>
  );
}

export default function App() {
  return (
    <div
      style={{
        position: 'absolute',
        left: 0,
        top: 0,
        width: 1126,
        height: 1374,
        background: '#FFFFFF',
        overflow: 'hidden',
        fontFamily: FONT,
      }}
    >
      {ALGOS.map((a, i) => (
        <React.Fragment key={'leg-' + a}>
          <div
            style={{
              position: 'absolute',
              left: LEGEND_LINE_X[i],
              top: 17,
              width: 41,
              height: 6,
              borderRadius: 3,
              background: COLORS[i],
            }}
          />
          <div
            style={{
              position: 'absolute',
              left: LEGEND_TEXT_X[i],
              top: 6,
              height: 28,
              lineHeight: '28px',
              fontSize: 22,
              color: TEXT,
              whiteSpace: 'nowrap',
            }}
          >
            {a}
          </div>
        </React.Fragment>
      ))}

      {ENVS.map((env, r) => (
        <React.Fragment key={env}>
          <div
            style={{
              position: 'absolute',
              left: 11,
              top: ROW_TOP[r] + PLOT_H / 2 + 1,
              height: 32,
              lineHeight: '32px',
              fontSize: 26,
              fontFamily: '"Liberation Serif", "Times New Roman", serif',
              color: '#000',
              whiteSpace: 'nowrap',
            }}
          >
            {env}
          </div>
          {METRICS.map((m, c) => (
            <React.Fragment key={env + m}>
              <Panel r={r} c={c} />
              <div
                style={{
                  position: 'absolute',
                  left: YLABEL_X[c] - 60,
                  top: ROW_TOP[r] + PLOT_H / 2 - 8,
                  width: 120,
                  height: 16,
                  lineHeight: '16px',
                  textAlign: 'center',
                  fontSize: 12,
                  color: TEXT,
                  transform: 'rotate(-90deg)',
                  whiteSpace: 'nowrap',
                }}
              >
                {m}
              </div>
            </React.Fragment>
          ))}
        </React.Fragment>
      ))}

      {METRICS.map((m, c) => {
        const left = PLOT_LEFT[5][c];
        const right = PLOT_RIGHT[c];
        return (
          <React.Fragment key={'xl-' + m}>
            <div
              style={{
                position: 'absolute',
                left: (left + right) / 2 - 80,
                top: 1357,
                width: 160,
                height: 16,
                lineHeight: '16px',
                textAlign: 'center',
                fontSize: 12,
                color: TEXT,
              }}
            >
              TotalEnvInteracts
            </div>
            <div
              style={{
                position: 'absolute',
                left: right - 40,
                top: 1355,
                width: 40,
                height: 14,
                lineHeight: '14px',
                textAlign: 'right',
                fontSize: 11,
                color: TEXT,
              }}
            >
              1e6
            </div>
          </React.Fragment>
        );
      })}
    </div>
  );
}
